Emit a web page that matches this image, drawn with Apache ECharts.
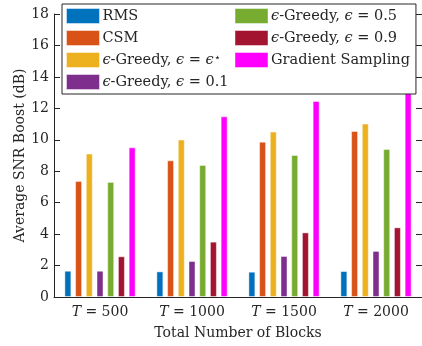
<!DOCTYPE html>
<html>
<head>
<meta charset="utf-8">
<script src="https://cdn.jsdelivr.net/npm/echarts@6/dist/echarts.min.js"></script>
<style>
html, body { margin: 0; padding: 0; background: #fff; }
#chart { width: 422px; height: 346px; }
</style>
</head>
<body>
<div id="chart"></div>
<script>
const categories = ['500', '1000', '1500', '2000'];
const seriesNames = [
	'RMS',
	'CSM',
	'ϵ-Greedy, ϵ = ϵ⋆',
	'ϵ-Greedy, ϵ = 0.1',
	'ϵ-Greedy, ϵ = 0.5',
	'ϵ-Greedy, ϵ = 0.9',
	'Gradient Sampling'
];
const rms = [1.67, 1.63, 1.61, 1.65];
const csm = [7.38, 8.69, 9.88, 10.56];
const greedyStar = [9.12, 10.01, 10.52, 11.03];
const greedy01 = [1.67, 2.29, 2.61, 2.93];
const greedy05 = [7.32, 8.40, 9.03, 9.41];
const greedy09 = [2.59, 3.52, 4.11, 4.43];
const gradient = [9.52, 11.49, 12.47, 13.04];

const values = [rms, csm, greedyStar, greedy01, greedy05, greedy09, gradient];
const colors = ['#0072BD', '#D95319', '#EDB120', '#7E2F8E', '#77AC30', '#A2142F', '#FF00FF'];

const FONT = 'DejaVu Serif';
const INK = '#262626';

// turn the plain names into rich text with italic epsilons
const richName = function (name) {
	return name
		.replace('⋆', '{sup|⋆}')
		.replace(/ϵ/g, '{i|ϵ}');
};

const chart = echarts.init(document.getElementById('chart'), null, { renderer: 'canvas' });

const option = {
	animation: false,
	color: colors,
	textStyle: { fontFamily: FONT, color: INK },
	grid: {
		left: 54,
		top: 14,
		width: 374,
		height: 283
	},
	legend: {
		orient: 'vertical',
		left: 62,
		top: 4,
		height: 88,
		padding: [4, 6, 4, 4],
		itemGap: 6,
		itemWidth: 33,
		itemHeight: 15,
		itemStyle: { borderColor: 'rgba(255,255,255,0.45)', borderWidth: 1 },
		backgroundColor: '#fff',
		borderColor: INK,
		borderWidth: 1,
		borderRadius: 0,
		icon: 'rect',
		formatter: richName,
		textStyle: {
			fontFamily: FONT,
			fontSize: 14.5,
			lineHeight: 15,
			color: INK,
			padding: [0, 0, 0, -2],
			rich: {
				i: { fontFamily: FONT, fontStyle: 'italic', fontSize: 14.5, color: INK },
				sup: { fontFamily: FONT, fontSize: 11, color: INK, verticalAlign: 'top', padding: [0, 0, 6, 0] }
			}
		},
		data: seriesNames
	},
	xAxis: {
		type: 'category',
		data: categories,
		name: 'Total Number of Blocks',
		nameLocation: 'middle',
		nameGap: 29,
		nameMoveOverlap: false,
		nameTextStyle: { fontFamily: FONT, fontSize: 14, color: INK },
		axisLine: { lineStyle: { color: INK, width: 1 } },
		axisTick: { inside: true, alignWithLabel: true, length: 5, lineStyle: { color: INK } },
		axisLabel: {
			interval: 0,
			margin: 8,
			fontFamily: FONT,
			fontSize: 14,
			color: INK,
			formatter: function (v) { return '{i|T} = ' + v; },
			rich: {
				i: { fontFamily: FONT, fontStyle: 'italic', fontSize: 14, color: INK }
			}
		}
	},
	yAxis: [
		{
			type: 'value',
			min: 0,
			max: 18,
			interval: 2,
			name: 'Average SNR Boost (dB)',
			nameLocation: 'middle',
			nameGap: 27,
			nameMoveOverlap: false,
			nameTextStyle: { fontFamily: FONT, fontSize: 14, color: INK },
			axisLine: { show: true, lineStyle: { color: INK, width: 1 } },
			axisTick: { show: true, inside: true, length: 6, lineStyle: { color: INK } },
			axisLabel: { margin: 5, fontFamily: FONT, fontSize: 14, color: INK },
			splitLine: { show: false }
		},
		{
			type: 'value',
			min: 0,
			max: 18,
			interval: 2,
			position: 'right',
			axisLine: { show: true, lineStyle: { color: INK, width: 1 } },
			axisTick: { show: true, inside: true, length: 6, lineStyle: { color: INK } },
			axisLabel: { show: false },
			splitLine: { show: false }
		}
	],
	series: seriesNames.map(function (name, i) {
		return {
			name: name,
			type: 'bar',
			barWidth: 7,
			barGap: '53%',
			itemStyle: { borderColor: 'rgba(255,255,255,0.45)', borderWidth: 1 },
			data: values[i]
		};
	})
};

chart.setOption(option);
</script>
</body>
</html>
